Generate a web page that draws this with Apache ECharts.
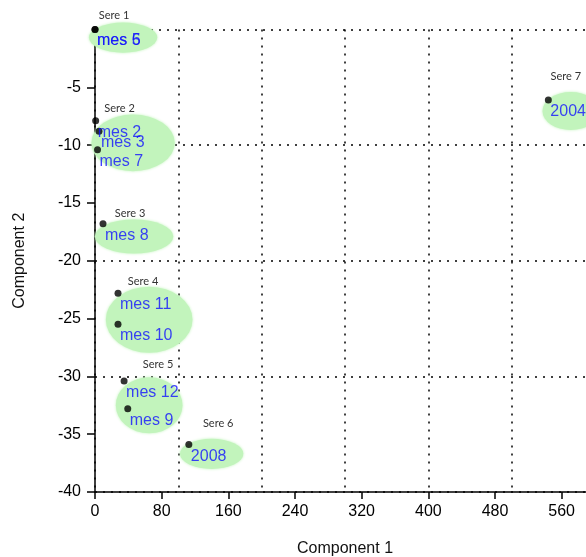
<!DOCTYPE html>
<html>
<head>
<meta charset="utf-8">
<script src="https://cdn.jsdelivr.net/npm/echarts@6/dist/echarts.min.js"></script>
<style>
  html, body { margin: 0; padding: 0; background: #fff; }
  #chart { width: 586px; height: 557px; }
</style>
</head>
<body>
<div id="chart"></div>
<script>
// Observations (PCA scores): name, Component 1, Component 2
const pointNames = ['mes 5', 'mes 6', 'mes 2', 'mes 3', 'mes 7', 'mes 8', 'mes 11', 'mes 10', 'mes 12', 'mes 9', '2008', '2004'];
const comp1 = [0, 0, 0.8, 4.8, 3, 9.6, 27.6, 27.6, 34.9, 39.3, 112.6, 544];
const comp2 = [0, 0, -7.9, -8.8, -10.4, -16.8, -22.8, -25.5, -30.4, -32.8, -35.9, -6.1];

// Clusters: centre and half-axes in data units, plus where each title sits
const groupNames = ['Sere 1', 'Sere 2', 'Sere 3', 'Sere 4', 'Sere 5', 'Sere 6', 'Sere 7'];
const groupCx = [33.7, 45.7, 46.9, 65, 65, 140, 571];
const groupCy = [-0.7, -9.8, -17.9, -25.1, -32.5, -36.7, -7.05];
const groupRx = [41, 50, 47, 52, 40, 38, 34];
const groupRy = [1.3, 2.45, 1.47, 2.85, 2.42, 1.3, 1.64];
const groupTitleX = [22.8, 29.4, 42, 57.7, 75.7, 147.8, 565];
const groupTitleY = [1.25, -6.8, -15.9, -21.8, -29.0, -34.1, -4.1];

// Axis settings
const xMin = 0, xMax = 600, xTickStep = 80, xGridStep = 100;
const yMin = -40, yMax = 0, yTickStep = 5, yGridStep = 10;

const FONT = 'Liberation Sans, Arial, sans-serif';
const dotted = { color: '#000', width: 1.5, type: [2, 6] };

const points = pointNames.map((n, i) => ({ name: n, value: [comp1[i], comp2[i]] }));
const clusters = groupNames.map((n, i) => ({
  name: n,
  value: [groupCx[i], groupCy[i], groupRx[i], groupRy[i], groupTitleX[i], groupTitleY[i]]
}));

const chart = echarts.init(document.getElementById('chart'), null, { renderer: 'canvas' });

chart.setOption({
  animation: false,
  backgroundColor: '#fff',
  grid: { left: 95, right: -9, top: 29.5, bottom: 65, outerBoundsMode: 'none', containLabel: false },
  xAxis: [
    {
      type: 'value', min: xMin, max: xMax, interval: xTickStep,
      name: 'Component 1', nameLocation: 'middle', nameGap: 49,
      nameTextStyle: { fontFamily: FONT, fontSize: 16, color: '#111' },
      axisLine: { show: true, onZero: false, lineStyle: { color: '#000', width: 1.5 } },
      axisTick: { show: true, inside: false, length: 7, lineStyle: { color: '#000', width: 1.5 } },
      axisLabel: { fontFamily: FONT, fontSize: 16, color: '#000', margin: 12, showMaxLabel: false },
      splitLine: { show: false }
    },
    {
      type: 'value', min: xMin, max: xMax, interval: xGridStep, position: 'bottom',
      axisLine: { show: false }, axisTick: { show: false }, axisLabel: { show: false },
      splitLine: { show: true, lineStyle: dotted }
    }
  ],
  yAxis: [
    {
      type: 'value', min: yMin, max: yMax, interval: yTickStep,
      name: 'Component 2', nameLocation: 'middle', nameGap: 67, nameRotate: 90,
      nameTextStyle: { fontFamily: FONT, fontSize: 16, color: '#111' },
      axisLine: { show: true, onZero: false, lineStyle: { color: '#000', width: 1.5 } },
      axisTick: { show: true, inside: false, length: 8, lineStyle: { color: '#000', width: 1.5 } },
      axisLabel: { fontFamily: FONT, fontSize: 16, color: '#000', margin: 14, showMaxLabel: false },
      splitLine: { show: false }
    },
    {
      type: 'value', min: yMin, max: yMax, interval: yGridStep, position: 'left',
      axisLine: { show: false }, axisTick: { show: false }, axisLabel: { show: false },
      splitLine: { show: true, lineStyle: dotted }
    }
  ],
  series: [
    {
      // cluster ellipses with their titles
      type: 'custom',
      xAxisIndex: 0, yAxisIndex: 0,
      z: 1,
      clip: false,
      data: clusters,
      renderItem: function (params, api) {
        const c = api.coord([api.value(0), api.value(1)]);
        const s = api.size([api.value(2), api.value(3)]);
        const t = api.coord([api.value(4), api.value(5)]);
        return {
          type: 'group',
          children: [
            {
              type: 'circle',
              x: c[0], y: c[1], scaleX: s[0], scaleY: s[1],
              shape: { cx: 0, cy: 0, r: 1 },
              style: { fill: '#c2f4bc', shadowBlur: 3, shadowColor: '#c2f4bc' }
            },
            {
              type: 'text',
              x: t[0], y: t[1],
              style: {
                text: groupNames[params.dataIndex],
                fill: '#333', font: '11px Lato, sans-serif',
                align: 'center', verticalAlign: 'middle'
              }
            }
          ]
        };
      }
    },
    {
      type: 'scatter',
      xAxisIndex: 0, yAxisIndex: 0,
      z: 3,
      symbol: 'circle', symbolSize: 7,
      itemStyle: { color: '#000' },
      data: points,
      label: {
        show: true,
        formatter: '{b}',
        position: [5.5, 15],
        align: 'left', verticalAlign: 'middle',
        fontFamily: FONT, fontSize: 16, color: '#1212ff'
      },
      labelLayout: { hideOverlap: false }
    }
  ]
});
</script>
</body>
</html>
